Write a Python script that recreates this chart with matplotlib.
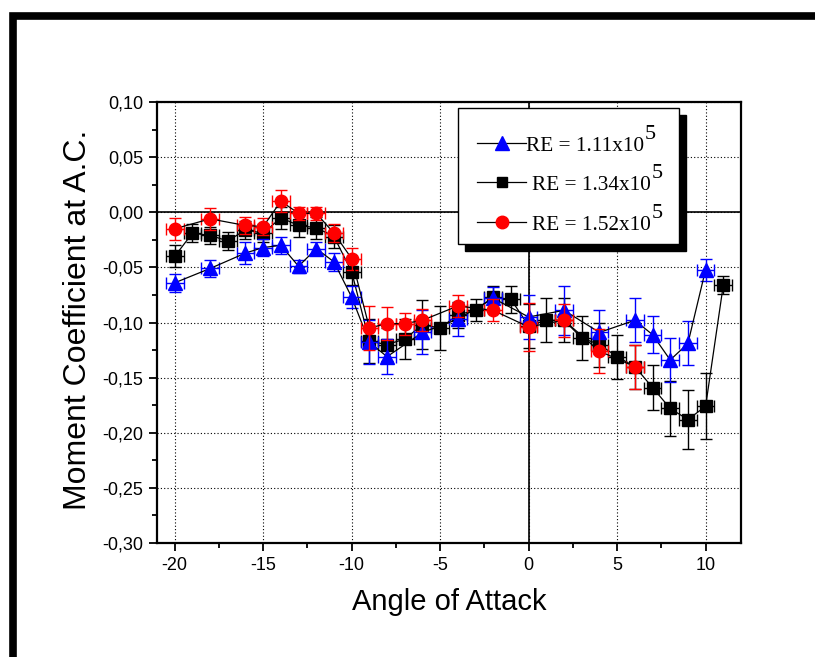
import matplotlib
matplotlib.use("Agg")
import matplotlib.pyplot as plt
from matplotlib.lines import Line2D
from matplotlib.patches import Rectangle
from matplotlib.text import Annotation
from matplotlib.ticker import MultipleLocator, FuncFormatter

# ---------------- data ----------------
x_111 = [-20, -18, -16, -15, -14, -13, -12, -11, -10, -9, -8, -6, -4, -2, 0, 2, 4, 6, 7, 8, 9, 10]
cm_111 = [-0.064, -0.051, -0.037, -0.032, -0.030, -0.049, -0.033, -0.045, -0.077, -0.118, -0.131,
          -0.109, -0.097, -0.078, -0.095, -0.089, -0.109, -0.098, -0.111, -0.134, -0.119, -0.052]
err_111 = [0.008, 0.008, 0.010, 0.008, 0.008, 0.006, 0.006, 0.008, 0.010, 0.020, 0.016,
           0.020, 0.015, 0.010, 0.020, 0.022, 0.020, 0.020, 0.017, 0.020, 0.020, 0.010]

x_134 = [-20, -19, -18, -17, -16, -15, -14, -13, -12, -11, -10, -9, -8, -7, -6, -5, -4, -3, -2, -1,
         0, 1, 2, 3, 4, 5, 6, 7, 8, 9, 10, 11]
cm_134 = [-0.040, -0.019, -0.021, -0.026, -0.016, -0.019, -0.005, -0.012, -0.014, -0.022, -0.054,
          -0.117, -0.120, -0.115, -0.102, -0.105, -0.093, -0.089, -0.077, -0.079,
          -0.103, -0.098, -0.098, -0.114, -0.120, -0.131, -0.140, -0.159, -0.178, -0.188, -0.176, -0.066]
err_134 = [0.010, 0.008, 0.008, 0.008, 0.008, 0.008, 0.010, 0.010, 0.010, 0.010, 0.012,
           0.020, 0.015, 0.018, 0.022, 0.020, 0.012, 0.010, 0.010, 0.012,
           0.020, 0.020, 0.020, 0.020, 0.020, 0.020, 0.020, 0.020, 0.025, 0.027, 0.030, 0.008]

x_152 = [-20, -18, -16, -15, -14, -13, -12, -11, -10, -9, -8, -7, -6, -4, -2, 0, 2, 4, 6]
cm_152 = [-0.015, -0.006, -0.012, -0.013, 0.010, -0.001, -0.001, -0.019, -0.042, -0.105, -0.101,
          -0.101, -0.098, -0.085, -0.089, -0.104, -0.098, -0.126, -0.140]
err_152 = [0.010, 0.010, 0.008, 0.008, 0.010, 0.006, 0.006, 0.008, 0.010, 0.020, 0.015,
           0.010, 0.010, 0.010, 0.010, 0.022, 0.015, 0.020, 0.020]

xerr_deg = 0.5
legend_labels = ["RE = 1.11x10", "RE = 1.34x10", "RE = 1.52x10"]
legend_exp = "5"

# ---------------- figure ----------------
W, H = 815, 657
fig = plt.figure(figsize=(W / 100, H / 100), dpi=100)
fx = lambda px: px / W
fy = lambda py: 1 - py / H

ax = fig.add_axes([fx(157), fy(543), fx(741) - fx(157), fy(102) - fy(543)])
ax.set_xlim(-21, 12)
ax.set_ylim(-0.30, 0.10)

sans = "Liberation Sans"
serif = "Liberation Serif"

# grid and zero lines
ax.grid(True, which="major", linestyle=(0, (1, 2)), color="black", linewidth=0.8)
ax.axhline(0, color="black", lw=1.2, zorder=1.5)
ax.axvline(0, color="black", lw=1.2, zorder=1.5)

def series(x, y, e, marker, color, ms, z):
    ax.errorbar(x, y, yerr=e, xerr=xerr_deg, fmt="none", ecolor=color,
                elinewidth=1.0, capsize=4, capthick=1.0, zorder=z)
    ax.plot(x, y, color="black", lw=0.9, zorder=z + 0.1)
    ax.plot(x, y, linestyle="none", marker=marker, color=color, markersize=ms,
            markeredgecolor=color, zorder=z + 0.2)

series(x_134, cm_134, err_134, "s", "black", 8, 3)
series(x_111, cm_111, err_111, "^", "blue", 10, 4)
series(x_152, cm_152, err_152, "o", "red", 9, 5)

# ticks
ax.xaxis.set_major_locator(MultipleLocator(5))
ax.xaxis.set_minor_locator(MultipleLocator(2.5))
ax.yaxis.set_major_locator(MultipleLocator(0.05))
ax.yaxis.set_minor_locator(MultipleLocator(0.025))
ax.yaxis.set_major_formatter(FuncFormatter(lambda v, p: f"{v:.2f}".replace(".", ",").replace("-0,00", "0,00")))
ax.xaxis.set_major_formatter(FuncFormatter(lambda v, p: f"{v:.0f}"))
ax.tick_params(which="both", direction="out", top=False, right=False, width=1.3)
ax.tick_params(which="major", length=6, labelsize=13, pad=4)
ax.tick_params(which="minor", length=3.5)
for lab in ax.get_xticklabels() + ax.get_yticklabels():
    lab.set_fontfamily(sans)
for s in ax.spines.values():
    s.set_linewidth(1.6)

fig.text(fx(78), fy(320), "Moment Coefficient at A.C.", rotation=90, ha="center", va="center",
         fontsize=23, family=sans)
fig.text(fx(449), fy(602), "Angle of Attack", ha="center", va="center", fontsize=21, family=sans)

# legend box with shadow
bx0, bx1, by0, by1 = 458, 679, 108, 244
fig.add_artist(Rectangle((fx(bx0 + 7), fy(by1 + 7)), fx(bx1) - fx(bx0), fy(by0) - fy(by1),
                         transform=fig.transFigure, facecolor="black", edgecolor="black", zorder=10))
fig.add_artist(Rectangle((fx(bx0), fy(by1)), fx(bx1) - fx(bx0), fy(by0) - fy(by1),
                         transform=fig.transFigure, facecolor="white", edgecolor="black", lw=1.0, zorder=11))

rows = [(143, "^", "blue", 10, 526), (182, "s", "black", 7, 532), (222, "o", "red", 9, 532)]
for (ry, mk, col, ms, tx), lab in zip(rows, legend_labels):
    fig.add_artist(Line2D([fx(477), fx(526)], [fy(ry), fy(ry)], color="black", lw=0.9,
                          transform=fig.transFigure, zorder=12))
    fig.add_artist(Line2D([fx(502)], [fy(ry)], marker=mk, color=col, markersize=ms, linestyle="none",
                          transform=fig.transFigure, zorder=13))
    t = fig.text(fx(tx), fy(ry + 8), lab, ha="left", va="baseline", fontsize=15.3, family=serif, zorder=13)
    ann = Annotation(legend_exp, xy=(1, 0), xycoords=t, xytext=(1, 12), textcoords="offset pixels",
                     ha="left", va="bottom", fontsize=16, family=serif, zorder=14,
                     annotation_clip=False)
    fig.add_artist(ann)

# outer frame (thick L-shaped border)
fig.add_artist(Line2D([fx(13), fx(13), 1.0], [0.0, fy(16), fy(16)], color="black", lw=5.5,
                      solid_joinstyle="miter", transform=fig.transFigure, zorder=20))

fig.savefig("out.png", dpi=100)
